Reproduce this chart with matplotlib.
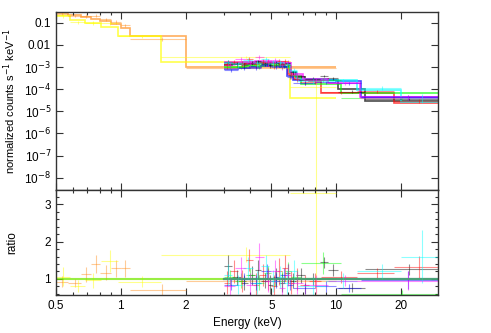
import numpy as np
import matplotlib
matplotlib.use("Agg")
import matplotlib.pyplot as plt
from matplotlib.ticker import FixedLocator, NullFormatter, MultipleLocator

plt.rcParams["font.family"] = ["Liberation Sans", "DejaVu Sans"]
plt.rcParams["font.size"] = 8.5

# ---- data: bin edges (keV), model (counts/s/keV), data/model ratio, ratio error ----
orange_edges = [0.5, 0.57, 0.65, 0.73, 0.8, 0.9, 1.0, 1.1, 2.0, 10.0]
orange_model = [0.28, 0.22, 0.18, 0.15, 0.12, 0.085, 0.06, 0.026, 1.0e-3]
orange_ratio = [0.93, 0.89, 1.13, 1.4, 1.17, 1.28, 1.28, 0.71, 0.95]
orange_rerr = [0.15, 0.1, 0.2, 0.25, 0.2, 0.22, 0.22, 0.15, 0.1]

yellow_edges = [0.5, 0.58, 0.68, 0.81, 0.97, 1.53, 6.1, 10.0]
yellow_model = [0.2, 0.13, 0.1, 0.066, 0.026, 1.7e-3, 3.8e-5]
yellow_ratio = [1.06, 0.81, 0.97, 1.48, 0.93, 1.65, 3.3]
yellow_rerr = [0.25, 0.15, 0.2, 0.3, 0.15, 0.2, 3.3]

black_edges = [3.0, 3.3, 3.6, 3.9, 4.2, 4.5, 4.8, 5.1, 5.4, 5.8, 6.1, 6.5, 7.2, 8.4, 9.2, 10.2, 13.6, 30.0]
black_model = [1.25e-3, 1.3e-3, 1.35e-3, 1.4e-3, 1.45e-3, 1.5e-3, 1.5e-3, 1.45e-3, 1.4e-3,
               1.3e-3, 6e-4, 3.5e-4, 3e-4, 2.8e-4, 2.5e-4, 1e-4, 3e-5]
black_ratio = [1.35, 1.05, 0.9, 1.1, 1.25, 0.95, 0.85, 1.05, 0.9, 1.15, 0.95, 1.1, 1.0, 1.45, 1.24, 0.77, 1.26]
black_rerr = [0.3, 0.2, 0.2, 0.25, 0.25, 0.2, 0.25, 0.25, 0.25, 0.25, 0.2, 0.2, 0.15, 0.15, 0.15, 0.12, 0.15]

red_edges = [3.0, 3.2, 3.5, 3.8, 4.1, 4.4, 4.7, 5.0, 5.3, 5.6, 6.0, 6.4, 6.8, 7.5, 8.5, 12.5, 18.5, 30.0]
red_model = [1.4e-3, 1.45e-3, 1.5e-3, 1.55e-3, 1.6e-3, 1.6e-3, 1.6e-3, 1.55e-3, 1.5e-3,
             1.4e-3, 5e-4, 3e-4, 2.6e-4, 2.3e-4, 7e-5, 7e-5, 2.3e-5]
red_ratio = [0.9, 1.2, 0.95, 1.5, 0.85, 1.1, 1.0, 0.8, 1.2, 1.3, 0.9, 1.0, 0.85, 0.95, 1.05, 1.15, 1.32]
red_rerr = [0.3, 0.3, 0.3, 0.3, 0.3, 0.3, 0.3, 0.3, 0.35, 0.35, 0.3, 0.3, 0.25, 0.2, 0.15, 0.15, 0.3]

green_edges = [3.0, 3.4, 3.8, 4.2, 4.6, 5.0, 5.4, 5.8, 6.2, 6.9, 10.5, 30.0]
green_model = [1e-3, 1.05e-3, 1.1e-3, 1.2e-3, 1.25e-3, 1.2e-3, 1.15e-3, 1.0e-3, 4e-4, 1.8e-4, 6.6e-5]
green_ratio = [1.05, 0.95, 1.1, 0.9, 1.15, 1.0, 0.95, 1.2, 1.05, 1.43, 0.6]
green_rerr = [0.2, 0.2, 0.2, 0.2, 0.2, 0.2, 0.25, 0.25, 0.2, 0.3, 0.1]

blue_edges = [3.0, 3.5, 4.0, 4.5, 5.0, 5.5, 5.9, 6.3, 8.0, 10.0, 13.0, 30.0]
blue_model = [8.5e-4, 9e-4, 1.05e-3, 1.1e-3, 1.1e-3, 1.05e-3, 4e-4, 2.6e-4, 2.5e-4, 2.4e-4, 4.4e-5]
blue_ratio = [0.85, 1.0, 0.9, 1.2, 0.95, 1.1, 0.85, 0.75, 0.8, 0.76, 0.97]
blue_rerr = [0.15, 0.15, 0.2, 0.2, 0.2, 0.2, 0.15, 0.15, 0.15, 0.1, 0.25]

cyan_edges = [3.0, 3.3, 3.7, 4.1, 4.5, 4.9, 5.3, 5.7, 6.1, 6.6, 9.0, 12.5, 20.0, 30.0]
cyan_model = [1.5e-3, 1.55e-3, 1.6e-3, 1.65e-3, 1.65e-3, 1.6e-3, 1.55e-3, 1.45e-3,
              6e-4, 3e-4, 2.5e-4, 9.6e-5, 2.6e-5]
cyan_ratio = [1.1, 0.85, 1.3, 0.9, 1.35, 0.95, 1.05, 0.9, 1.2, 0.8, 0.95, 1.2, 1.6]
cyan_rerr = [0.3, 0.25, 0.3, 0.3, 0.3, 0.3, 0.3, 0.3, 0.3, 0.25, 0.2, 0.2, 0.7]

magenta_edges = [3.0, 3.4, 3.8, 4.2, 4.6, 5.0, 5.4, 5.8, 6.2, 7.0, 9.2, 12.9, 30.0]
magenta_model = [1.6e-3, 1.7e-3, 1.75e-3, 1.8e-3, 1.8e-3, 1.75e-3, 1.7e-3, 1.55e-3,
                 5e-4, 3e-4, 1.9e-4, 4.4e-5]
magenta_ratio = [0.8, 1.3, 0.85, 1.6, 0.95, 1.2, 0.75, 1.1, 0.9, 0.85, 0.95, 0.95]
magenta_rerr = [0.25, 0.3, 0.3, 0.35, 0.3, 0.3, 0.3, 0.3, 0.3, 0.25, 0.15, 0.25]

series = [
    ("#ff8c1a", orange_edges, orange_model, orange_ratio, orange_rerr),
    ("#ffff00", yellow_edges, yellow_model, yellow_ratio, yellow_rerr),
    ("#000000", black_edges, black_model, black_ratio, black_rerr),
    ("#ff0000", red_edges, red_model, red_ratio, red_rerr),
    ("#00ff00", green_edges, green_model, green_ratio, green_rerr),
    ("#0000ff", blue_edges, blue_model, blue_ratio, blue_rerr),
    ("#00ffff", cyan_edges, cyan_model, cyan_ratio, cyan_rerr),
    ("#ff00ff", magenta_edges, magenta_model, magenta_ratio, magenta_rerr),
]

xticks = [0.5, 1, 2, 5, 10, 20]
xticklabels = ["0.5", "1", "2", "5", "10", "20"]
yticks = [0.1, 0.01, 1e-3, 1e-4, 1e-5, 1e-6, 1e-7, 1e-8]
yticklabels = ["0.1", "0.01", "10$^{-3}$", "10$^{-4}$", "10$^{-5}$",
               "10$^{-6}$", "10$^{-7}$", "10$^{-8}$"]

fig = plt.figure(figsize=(4.91, 3.33), dpi=100)
ax1 = fig.add_axes([0.114, 0.4294, 0.778, 0.5345])
ax2 = fig.add_axes([0.114, 0.1141, 0.778, 0.3153], sharex=ax1)

for color, edges, model, ratio, rerr in series:
    edges = np.array(edges)
    model = np.array(model)
    ratio = np.array(ratio)
    rerr = np.array(rerr)
    centers = 0.5 * (edges[:-1] + edges[1:])
    half = 0.5 * (edges[1:] - edges[:-1])
    data = model * ratio
    derr = model * rerr
    ax1.errorbar(centers, data, xerr=half, yerr=derr, fmt="none",
                 ecolor=color, elinewidth=0.8, alpha=0.45)
    ax1.stairs(model, edges, baseline=None, color=color, lw=1.2, alpha=0.7)
    ax2.errorbar(centers, ratio, xerr=half, yerr=rerr, fmt="none",
                 ecolor=color, elinewidth=0.8, alpha=0.45)
    ax2.plot([edges[0], edges[-1]], [1, 1], color=color, lw=1.5, alpha=0.35)

ax2.axhline(1.0, color="#00ff00", lw=1.5, alpha=0.4)

ax1.set_xscale("log")
ax1.set_yscale("log")
ax1.set_xlim(0.5, 29.7)
ax1.set_ylim(2.8e-9, 0.304)
ax1.set_yticks(yticks, labels=yticklabels)
ax1.set_ylabel("normalized counts s$^{-1}$ keV$^{-1}$", fontsize=8)

ax2.set_ylim(0.57, 3.38)
ax2.yaxis.set_major_locator(FixedLocator([1, 2, 3]))
ax2.yaxis.set_minor_locator(MultipleLocator(0.2))
ax2.set_ylabel("ratio")
ax2.set_xlabel("Energy (keV)")
ax2.set_xticks(xticks, labels=xticklabels)
ax2.xaxis.set_minor_formatter(NullFormatter())
ax1.tick_params(labelbottom=False)

for ax in (ax1, ax2):
    ax.tick_params(which="both", direction="in", top=True, right=True,
                   color="#333333", width=0.8)
    ax.tick_params(which="major", length=5)
    ax.tick_params(which="minor", length=2.5)
    for sp in ax.spines.values():
        sp.set_linewidth(1.0)
        sp.set_color("#333333")

ax1.yaxis.set_label_coords(-0.1, 0.5)
ax2.yaxis.set_label_coords(-0.1, 0.5)

fig.savefig("out.png", dpi=100)
